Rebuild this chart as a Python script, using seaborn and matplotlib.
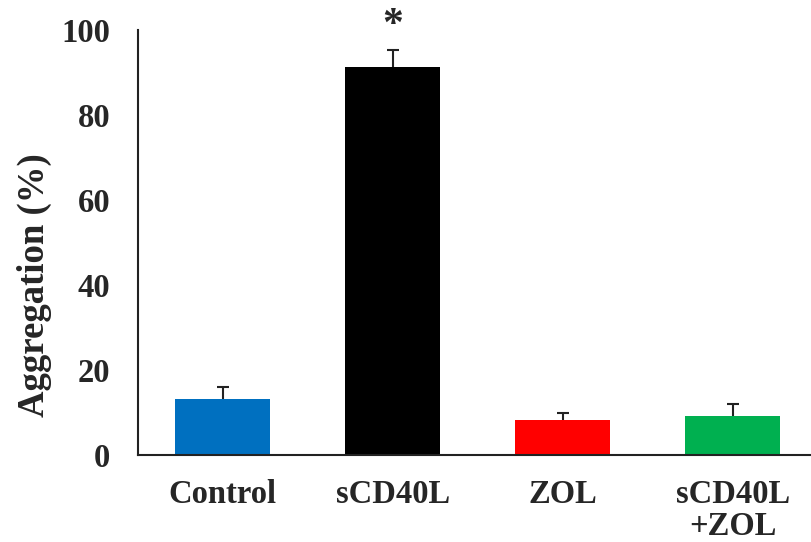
import numpy as np
import pandas as pd
import seaborn as sns
from matplotlib import pyplot as plt

# values
groups = ['Control', 'sCD40L', 'ZOL', 'sCD40L\n+ZOL']
means = [13.2, 91.3, 8.2, 9.2]
errs = [2.7, 4.0, 1.7, 2.7]
colors = ['#0070C0', '#000000', '#FF0000', '#00B050']
yticks = [0, 20, 40, 60, 80, 100]

sns.set_style('white')
plt.rcParams['font.family'] = ['Liberation Serif', 'DejaVu Serif']
plt.rcParams['font.weight'] = 'bold'

data = pd.DataFrame({'group': groups, 'value': means})

fig = plt.figure(figsize=(8.11, 5.42), dpi=100)
ax = fig.add_axes([0.170, 0.1605, 0.830, 0.7845])

sns.barplot(x='group', y='value', hue='group', data=data, palette=colors,
            legend=False, width=0.56, saturation=1, linewidth=0, ax=ax)

# upper error bars only
eb = ax.errorbar(np.arange(len(groups)), means, yerr=[np.zeros(len(errs)), errs],
                 fmt='none', ecolor='#222222', elinewidth=1.5, capsize=4.5,
                 capthick=1.5)
eb.lines[1][0].set_visible(False)  # hide the lower caps

# significance star over sCD40L
ax.text(1, means[1] + errs[1] + 5.7, '*', ha='center', va='center',
        fontsize=30, fontweight='bold', clip_on=False)

ax.set_xlim(-0.5, 3.46)
ax.set_ylim(0, 100)
ax.set_yticks(yticks)
ax.set_yticklabels([str(t) for t in yticks])
ax.set_xlabel('')
ax.set_ylabel('Aggregation (%)', fontsize=26.5, fontweight='bold')
ax.yaxis.set_label_coords(-0.128, 0.40)

ax.tick_params(axis='y', length=0, pad=20, labelsize=23.5)
ax.tick_params(axis='x', length=0, pad=17, labelsize=23.5)
for lab in ax.get_xticklabels() + ax.get_yticklabels():
    lab.set_fontweight('bold')
    lab.set_linespacing(1.05)

sns.despine(ax=ax, top=True, right=True)
for side in ['left', 'bottom']:
    ax.spines[side].set_color('#222222')
    ax.spines[side].set_linewidth(1.5)

fig.savefig('out.png', dpi=100)
